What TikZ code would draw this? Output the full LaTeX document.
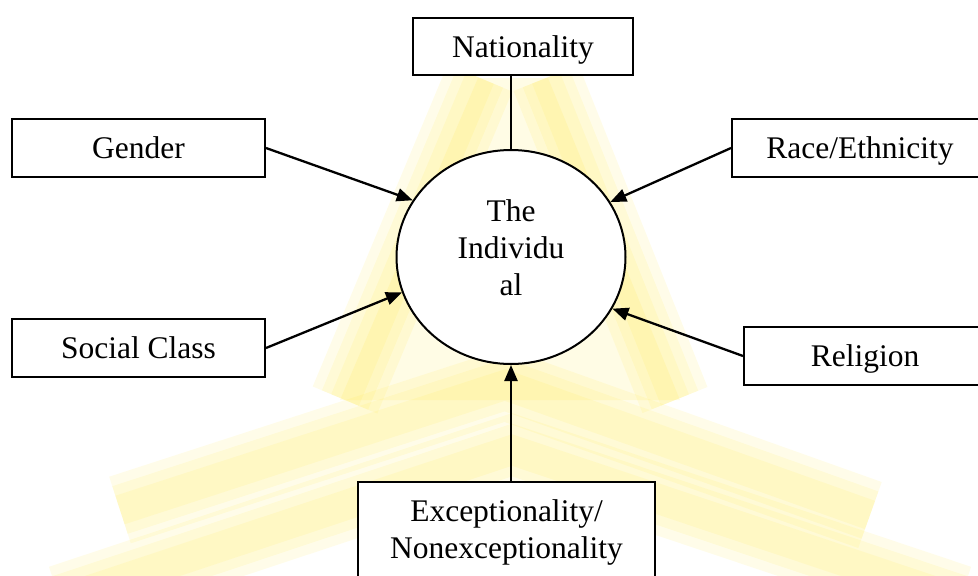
\documentclass[tikz,border=0pt]{standalone}
\usepackage{fontspec}
\setmainfont{Liberation Serif}
\usepackage{xcolor}
\usetikzlibrary{arrows.meta,shapes.geometric,positioning}
\definecolor{markyellow}{RGB}{255,228,40}

\begin{document}
\begin{tikzpicture}[x=1pt,y=-1pt,
        factor/.style={draw=black, line width=2pt, fill=white, inner sep=0pt,
            font=\fontsize{31.5}{37}\selectfont, align=center},
        oneline/.style={factor, text height=21.5pt, text depth=0pt, minimum height=58pt},
        arr/.style={line width=2.3pt, -{Triangle[length=16pt,width=13pt]}},
        link/.style={line width=2.3pt},
        glow/.style={markyellow, opacity=.1, line join=miter}]
    \useasboundingbox (0,0) rectangle (978,576);

    % faint logo behind the diagram
    \fill[markyellow, opacity=.12] (478,78) -- (548,78) -- (680,400) -- (340,400) -- cycle;
    \foreach \w in {70,50,30} {
        \draw[glow, line width=\w pt] (480,78) -- (345,400);
        \draw[glow, line width=\w pt] (546,78) -- (675,400);
        \draw[glow, line width=\w pt] (120,510) -- (505,385) -- (870,515);
        \draw[glow, line width=\w pt] (60,600) -- (512,450) -- (960,600);
    }

    \node[oneline, minimum width=220pt, minimum height=57pt] (nat) at (523,46.5) {Nationality};
    \node[oneline, minimum width=253pt] (gen)  at (138.5,148) {Gender};
    \node[oneline, minimum width=256pt] (race) at (860,148)   {Race/Ethnicity};
    \node[oneline, minimum width=253pt] (soc)  at (138.5,348) {Social Class};
    \node[oneline, minimum width=242pt] (rel)  at (865,356)   {Religion};
    \node[factor, minimum width=297pt, minimum height=100pt] (exc) at (506.5,532)
        {Exceptionality/\\Nonexceptionality};
    \node[factor, ellipse, minimum width=229pt, minimum height=214pt] (ind) at (511,257)
        {The\\Individu\\al\rule[-19pt]{0pt}{19pt}};

    \draw[link] (nat.south -| ind.north) -- (ind.north);
    \draw[arr] (gen.east)  -- (ind.150);
    \draw[arr] (race.west) -- (ind.29);
    \draw[arr] (soc.east)  -- (ind.198);
    \draw[arr] (rel.west)  -- (ind.-27);
    \draw[arr] (exc.north -| ind.south) -- (ind.south);
\end{tikzpicture}
\end{document}
